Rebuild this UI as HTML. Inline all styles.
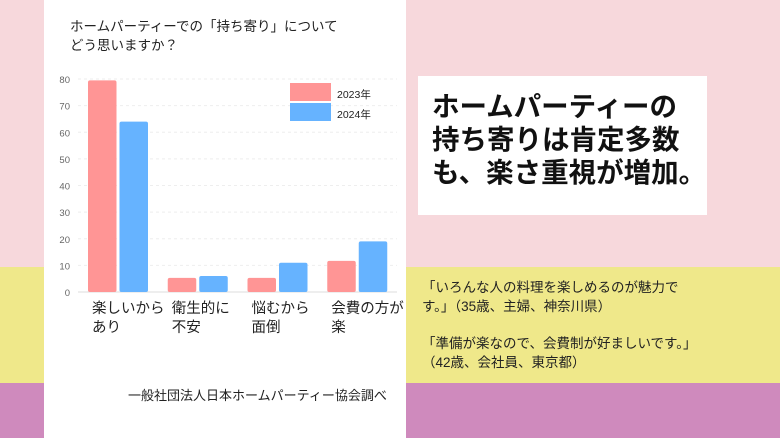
<!DOCTYPE html>
<html><head><meta charset="utf-8"><style>
body{margin:0;width:780px;height:438px;position:relative;overflow:hidden;font-family:"Liberation Sans","Noto Sans CJK JP",sans-serif;background:#f7d8dc}
.abs{position:absolute}
</style></head><body>
<div class="abs" style="left:0;top:267px;width:780px;height:116px;background:#efe88a"></div>
<div class="abs" style="left:0;top:383px;width:780px;height:55px;background:#cf8abd"></div>
<div class="abs" style="left:44px;top:0;width:362px;height:438px;background:#fff"></div>
<div class="abs" style="left:70px;top:17px;font-size:13.5px;line-height:19px;color:#222">ホームパーティーでの「持ち寄り」について<br>どう思いますか？</div>
<svg class="abs" style="left:0;top:0" width="780" height="438" id="chart"></svg>
<div class="abs" style="left:128px;top:385px;font-size:13px;color:#222">一般社団法人日本ホームパーティー協会調べ</div>
<div class="abs" style="left:418px;top:76px;width:289px;height:139px;background:#fff"></div>
<div class="abs" style="left:432px;top:90px;font-size:27.5px;font-weight:bold;line-height:33px;color:#111">ホームパーティーの<br>持ち寄りは肯定多数<br>も、楽さ重視が増加。</div>
<div class="abs" style="left:422px;top:278px;font-size:13.5px;line-height:19px;color:#222">「いろんな人の料理を楽しめるのが魅力で<br>す。」（35歳、主婦、神奈川県）</div>
<div class="abs" style="left:422px;top:334px;font-size:13.5px;line-height:19px;color:#222">「準備が楽なので、会費制が好ましいです。」<br>（42歳、会社員、東京都）</div>
<script>
const categories=[["楽しいから","あり"],["衛生的に","不安"],["悩むから","面倒"],["会費の方が","楽"]];
const series2023=[79.5,5.3,5.3,11.7];
const series2024=[64,6,11,19];
const yTicks=[0,10,20,30,40,50,60,70,80];
const NS="http://www.w3.org/2000/svg";
const svg=document.getElementById('chart');
const x0=78,x1=397,yZero=292,yTop=79,yMax=80;
const y=v=>yZero-(v/yMax)*(yZero-yTop);
const groupW=(x1-x0)/categories.length;
function el(t,a){const e=document.createElementNS(NS,t);for(const k in a)e.setAttribute(k,a[k]);svg.appendChild(e);return e;}
yTicks.forEach(t=>{
 const g=el('line',{x1:x0,x2:x1,y1:y(t),y2:y(t),stroke:t===0?'#ddd':'#eee','stroke-dasharray':t===0?'':'3,3'});
 
 
 const tx=el('text',{x:70,y:y(t)+4,'text-anchor':'end','font-size':'9.5',fill:'#666'});
 tx.textContent=t;
 
 
});
categories.forEach((c,i)=>{
 const gx=x0+i*groupW;
 [[series2023[i],'#ff9595',10],[series2024[i],'#66b3ff',41.5]].forEach(([v,col,off],j)=>{
  const r=el('rect',{x:gx+off,y:y(v),width:28.5,height:yZero-y(v),fill:col,rx:2});
  
  
 });
 c.forEach((line,k)=>{
  const t=el('text',{x:gx+14,y:313+k*19,'font-size':'14.5',fill:'#222'});
  t.textContent=line;
  
  
 });
});
[['2023年','#ff9595',83],['2024年','#66b3ff',103]].forEach(([n,c,ly])=>{
 const r=el('rect',{x:290,y:ly,width:41,height:18,fill:c});
 
 
 const t=el('text',{x:337,y:ly+15,'font-size':'10.5',fill:'#222'});
 t.textContent=n;
 
 
});
</script>
</body></html>
